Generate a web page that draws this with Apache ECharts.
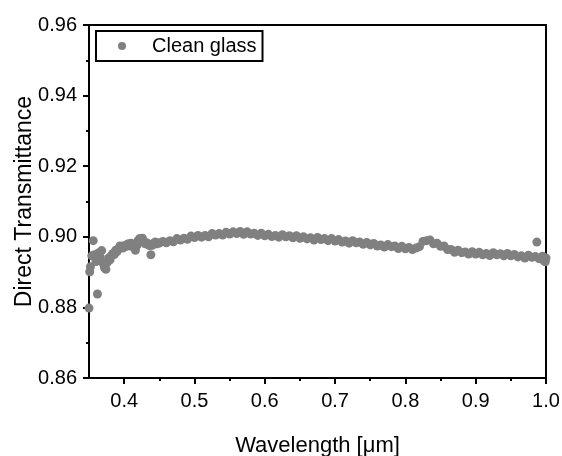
<!DOCTYPE html>
<html>
<head>
<meta charset="utf-8">
<script src="https://cdn.jsdelivr.net/npm/echarts@6/dist/echarts.min.js"></script>
<style>
html,body{margin:0;padding:0;background:#fff;}
#chart{width:562px;height:456px;}
</style>
</head>
<body>
<div id="chart"></div>
<script>
var seriesName = 'Clean glass';
var wavelength = [
0.350,0.351,0.352,0.354,0.356,0.358,0.360,0.362,0.364,0.366,0.368,0.370,0.372,0.374,0.376,0.378,
0.380,0.382,0.384,0.386,0.388,0.390,0.392,0.394,0.396,0.398,0.400,0.402,0.404,0.406,0.408,0.410,
0.412,0.414,0.416,0.418,0.420,0.422,0.424,0.426,0.428,0.430,0.432,0.434,0.436,0.438,0.440,0.442,
0.444,0.446,0.448,0.450,
0.455,0.460,0.465,0.470,0.475,0.480,0.485,0.490,0.495,0.500,
0.505,0.510,0.515,0.520,0.525,0.530,0.535,0.540,0.545,0.550,
0.555,0.560,0.565,0.570,0.575,0.580,0.585,0.590,0.595,0.600,
0.605,0.610,0.615,0.620,0.625,0.630,0.635,0.640,0.645,0.650,
0.655,0.660,0.665,0.670,0.675,0.680,0.685,0.690,0.695,0.700,
0.705,0.710,0.715,0.720,0.725,0.730,0.735,0.740,0.745,0.750,
0.755,0.760,0.765,0.770,0.775,0.780,0.785,0.790,0.795,0.800,
0.805,0.810,0.815,0.820,0.825,0.830,0.835,0.840,0.845,0.850,
0.855,0.860,0.865,0.870,0.875,0.880,0.885,0.890,0.895,0.900,
0.905,0.910,0.915,0.920,0.925,0.930,0.935,0.940,0.945,0.950,
0.955,0.960,0.965,0.970,0.975,0.980,0.985,0.987,0.990,0.995,
0.997,0.998,0.999,1.000
];
var transmittance = [
0.8798,0.8901,0.8915,0.8946,0.8989,0.8949,0.8930,0.8838,0.8955,0.8942,0.8961,0.8925,0.8912,0.8908,0.8927,0.8940,
0.8935,0.8948,0.8953,0.8950,0.8962,0.8958,0.8966,0.8974,0.8971,0.8968,0.8975,0.8972,0.8978,0.8980,0.8974,0.8982,
0.8978,0.8970,0.8962,0.8975,0.8990,0.8995,0.8988,0.8996,0.8985,0.8980,0.8983,0.8978,0.8975,0.8949,0.8976,0.8982,
0.8985,0.8980,0.8983,0.8982,
0.8987,0.8983,0.8989,0.8986,0.8995,0.8991,0.8996,0.8993,0.9002,0.8998,
0.9004,0.8999,0.9004,0.9000,0.9009,0.9005,0.9009,0.9005,0.9013,0.9008,
0.9014,0.9009,0.9015,0.9007,0.9014,0.9008,0.9010,0.9004,0.9010,0.9003,
0.9007,0.9001,0.9004,0.8999,0.9006,0.9000,0.9003,0.8997,0.9003,0.8996,
0.9000,0.8994,0.8997,0.8991,0.8998,0.8992,0.8995,0.8989,0.8995,0.8988,
0.8992,0.8985,0.8988,0.8982,0.8989,0.8983,0.8985,0.8979,0.8984,0.8977,
0.8981,0.8974,0.8977,0.8971,0.8978,0.8972,0.8974,0.8967,0.8973,0.8966,
0.8970,0.8964,0.8968,0.8972,0.8987,0.8989,0.8991,0.8980,0.8982,0.8973,
0.8974,0.8964,0.8964,0.8956,0.8962,0.8955,0.8957,0.8951,0.8958,0.8951,
0.8956,0.8949,0.8953,0.8947,0.8955,0.8949,0.8952,0.8946,0.8953,0.8946,
0.8950,0.8943,0.8946,0.8940,0.8948,0.8942,0.8944,0.8985,0.8938,0.8945,
0.8932,0.8937,0.8929,0.8940
];
var xMajorTicks = [0.4,0.5,0.6,0.7,0.8,0.9,1.0];
var xMinorTicks = [0.45,0.55,0.65,0.75,0.85,0.95];
var yTickLabels = ['0.86','0.88','0.90','0.92','0.94','0.96'];
var xAxisName = 'Wavelength [\u03bcm]';
var yAxisName = 'Direct Transmittance';

var points = wavelength.map(function(w, i){ return [w, transmittance[i]]; });
var FONT = "'Liberation Sans', Arial, sans-serif";

var chart = echarts.init(document.getElementById('chart'), null, {renderer:'canvas'});
chart.setOption({
  animation: false,
  backgroundColor: '#fff',
  grid: {left: 89, right: 16, top: 25, bottom: 78, containLabel: false, outerBoundsMode: 'none',
    show: true, borderColor: '#000', borderWidth: 2, backgroundColor: 'transparent'},
  legend: {
    show: true, left: 96, top: 31,
    orient: 'vertical',
    padding: [5, 6, 5, 22],
    borderColor: '#000', borderWidth: 2, borderRadius: 0,
    itemWidth: 8, itemHeight: 8,
    icon: 'circle',
    textStyle: {fontFamily: FONT, fontSize: 20, color: '#000', padding: [0,0,0,21]},
    data: [seriesName]
  },
  xAxis: [{
    type: 'value', min: 0.35, max: 1.0,
    name: xAxisName, nameLocation: 'middle', nameGap: 57, nameMoveOverlap: false,
    nameTextStyle: {fontFamily: FONT, fontSize: 22, color: '#000'},
    axisLine: {show: true, onZero: false, lineStyle: {color: '#000', width: 2}},
    axisTick: {show: true, inside: false, length: 6, lineStyle: {color: '#000', width: 2}, customValues: xMajorTicks},
    axisLabel: {show: true, margin: 13, fontFamily: FONT, fontSize: 20, color: '#000', customValues: xMajorTicks,
      formatter: function(v){ return v.toFixed(1); }},
    splitLine: {show: false}
  },{
    type: 'value', min: 0.35, max: 1.0, position: 'bottom',
    axisLine: {show: false, onZero: false},
    axisTick: {show: true, inside: false, length: 3, lineStyle: {color: '#000', width: 2}, customValues: xMinorTicks},
    axisLabel: {show: false},
    splitLine: {show: false}
  }],
  yAxis: {
    type: 'value', min: 0.86, max: 0.96, interval: 0.02,
    name: yAxisName, nameLocation: 'middle', nameGap: 53, nameMoveOverlap: false,
    nameTextStyle: {fontFamily: FONT, fontSize: 23, color: '#000'},
    axisLine: {show: true, onZero: false, lineStyle: {color: '#000', width: 2}},
    axisTick: {show: true, inside: false, length: 6, lineStyle: {color: '#000', width: 2}},
    minorTick: {show: true, splitNumber: 2, length: 3, lineStyle: {color: '#000', width: 2}},
    axisLabel: {show: true, margin: 12, fontFamily: FONT, fontSize: 20, color: '#000',
      formatter: function(v){ var idx = Math.round((v - 0.86) / 0.02); return yTickLabels[idx] !== undefined ? yTickLabels[idx] : v.toFixed(2); }},
    splitLine: {show: false}
  },
  series: [{
    name: seriesName,
    type: 'scatter',
    xAxisIndex: 0,
    symbol: 'circle',
    symbolSize: 9,
    itemStyle: {color: '#808080', opacity: 1},
    data: points
  }]
});
</script>
</body>
</html>
